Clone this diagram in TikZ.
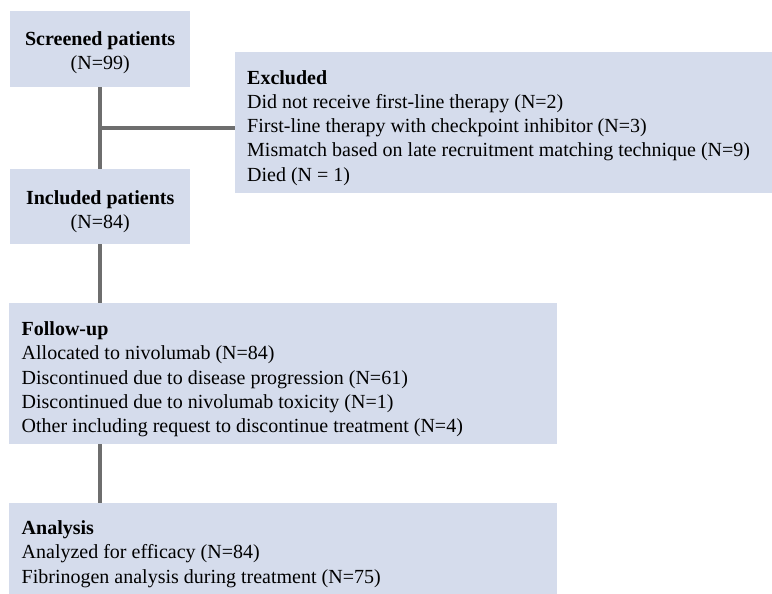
\documentclass[tikz,border=0pt]{standalone}
\usepackage{fontspec}
\setmainfont{Liberation Serif}
\definecolor{boxfill}{HTML}{D5DCEC}
\definecolor{linegray}{HTML}{6E6E6E}
\begin{document}
\begin{tikzpicture}[x=1pt,y=-1pt,
  box/.style={rectangle, fill=boxfill, draw=none, anchor=north west, inner sep=0pt},
  txt/.style={inner sep=0pt, font=\fontsize{20}{24.2}\selectfont},
  ltxt/.style={txt, anchor=north west, align=left},
  ctxt/.style={txt, anchor=north, align=center},
  conn/.style={draw=linegray, line width=3.6pt}]
\useasboundingbox (0,0) rectangle (772,594);
\node[box, minimum width=180pt, minimum height=76pt] (scr) at (10,11) {};
\node[box, minimum width=180pt, minimum height=75pt] (inc) at (10,169) {};
\node[box, minimum width=537pt, minimum height=141pt] (exc) at (235,52) {};
\node[box, minimum width=548pt, minimum height=141pt] (fol) at (9,303) {};
\node[box, minimum width=548pt, minimum height=91pt] (ana) at (9,503) {};
\node[ctxt] (scrt) at ([yshift=-20.5pt]scr.north) {\textbf{Screened patients}\\(N=99)};
\node[ctxt] (inct) at ([yshift=-21.5pt]inc.north) {\textbf{Included patients}\\(N=84)};
\node[ltxt] (exct) at ([xshift=12pt,yshift=-18.3pt]exc.north west)
  {\textbf{Excluded}\\Did not receive first-line therapy (N=2)\\First-line therapy with checkpoint inhibitor (N=3)\\Mismatch based on late recruitment matching technique (N=9)\\Died (N = 1)};
\node[ltxt] (folt) at ([xshift=12.5pt,yshift=-18.6pt]fol.north west)
  {\textbf{Follow-up}\\Allocated to nivolumab (N=84)\\Discontinued due to disease progression (N=61)\\Discontinued due to nivolumab toxicity (N=1)\\Other including request to discontinue treatment (N=4)};
\node[ltxt] (anat) at ([xshift=12.5pt,yshift=-17.6pt]ana.north west)
  {\textbf{Analysis}\\Analyzed for efficacy (N=84)\\Fibrinogen analysis during treatment (N=75)};
\coordinate (j) at (100,128);
\draw[conn] (scr.south) -- (inc.north);
\draw[conn] (j) -- (j -| exc.west);
\draw[conn] (inc.south) -- (inc.south |- fol.north);
\draw[conn] (inc.south |- fol.south) -- (inc.south |- ana.north);
\end{tikzpicture}
\end{document}
